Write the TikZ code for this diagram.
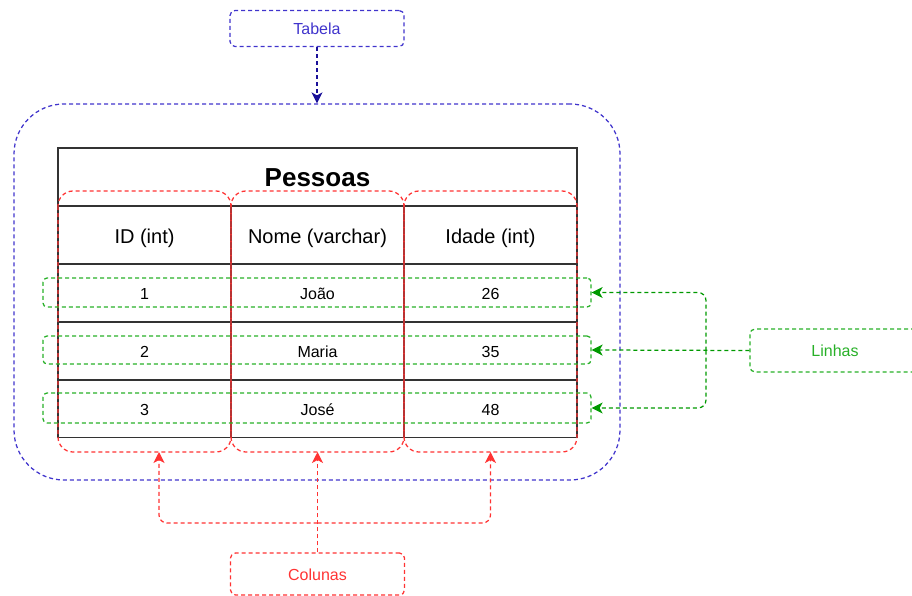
\documentclass[tikz,border=0pt]{standalone}
\usepackage{fontspec}
\setmainfont{Liberation Sans}
\usetikzlibrary{arrows.meta}
\definecolor{tblue}{RGB}{64,52,204}
\definecolor{tnavy}{RGB}{26,16,153}
\definecolor{tgreen}{RGB}{40,176,40}
\definecolor{tgreendark}{RGB}{0,153,0}
\definecolor{tred}{RGB}{255,51,51}
\definecolor{tgrid}{RGB}{51,51,51}
\tikzset{
  x=1pt, y=-1pt,
  dsh/.style={dash pattern=on 4pt off 3pt, line width=1.25pt},
  cell/.style={draw=tgrid, line width=1.4pt, minimum width=173pt, minimum height=58pt, inner sep=0pt, anchor=center},
  datatxt/.style={font=\fontsize{16}{18}\selectfont},
  headtxt/.style={font=\fontsize{20}{22}\selectfont},
  label/.style={dsh, rounded corners=5pt, minimum width=174pt, inner sep=0pt, font=\fontsize{16}{18}\selectfont},
  colbox/.style={dsh, draw=tred, rounded corners=15pt},
  rowbox/.style={dsh, draw=tgreen, rounded corners=4pt},
  tip/.style={-{Stealth[length=11pt,width=11pt,inset=3pt]}},
  garrow/.style={dsh, draw=tgreen, tip, tgreendark},
  rarrow/.style={dsh, draw=tred, tip},
}
% move text down inside a cell while keeping the cell's own box size
\newcommand{\lowered}[2]{\raisebox{-#1}[\height][\depth]{#2}}
\begin{document}
\begin{tikzpicture}
\useasboundingbox (0,0) rectangle (912,596);

% outer table frame
\node[dsh, draw=tblue, rounded corners=50pt, minimum width=606pt, minimum height=376pt, inner sep=0pt]
  (frame) at (317,292) {};

% Tabela label
\node[label, draw=tblue, text=tblue, minimum height=36pt] (tabela) at (317,28.5) {Tabela};
\draw[dsh, draw=tnavy, tip, tnavy] (tabela.south) -- (frame.north);

% table body
\node[cell, minimum width=519pt] (title) at (317.5,177) {\fontsize{26}{28}\selectfont\bfseries\lowered{1pt}{Pessoas}};
\node[cell, headtxt] (h1) at (144.5,235) {\lowered{3pt}{ID (int)}};
\node[cell, headtxt] (h2) at (317.5,235) {\lowered{3pt}{Nome (varchar)}};
\node[cell, headtxt] (h3) at (490.5,235) {\lowered{3pt}{Idade (int)}};
\node[cell, datatxt] (a1) at (144.5,293) {\lowered{1pt}{1}};
\node[cell, datatxt] (a2) at (317.5,293) {\lowered{1pt}{João}};
\node[cell, datatxt] (a3) at (490.5,293) {\lowered{1pt}{26}};
\node[cell, datatxt] (b1) at (144.5,351) {\lowered{1pt}{2}};
\node[cell, datatxt] (b2) at (317.5,351) {\lowered{1pt}{Maria}};
\node[cell, datatxt] (b3) at (490.5,351) {\lowered{1pt}{35}};
\node[cell, datatxt] (c1) at (144.5,408.5) {\lowered{1pt}{3}};
\node[cell, datatxt] (c2) at (317.5,408.5) {\lowered{1pt}{José}};
\node[cell, datatxt] (c3) at (490.5,408.5) {\lowered{1pt}{48}};

% column outlines
\draw[colbox] (58,191) rectangle (231,452);
\draw[colbox] (231,191) rectangle (404,452);
\draw[colbox] (404,191) rectangle (577,452);
\coordinate (col1) at (159,452);
\coordinate (col2) at (317.5,452);
\coordinate (col3) at (490.5,452);

% row outlines
\node[rowbox, minimum width=548pt, minimum height=29pt, inner sep=0pt] (row1) at (317,292.5) {};
\node[rowbox, minimum width=548pt, minimum height=28pt, inner sep=0pt] (row2) at (317,350) {};
\node[rowbox, minimum width=548pt, minimum height=30pt, inner sep=0pt] (row3) at (317,408) {};

% Linhas label and connectors
\node[label, draw=tgreen, text=tgreen, minimum height=43pt, minimum width=170pt] (linhas) at (835,350.5) {Linhas};
\coordinate (lj) at (706,350.5);
\draw[garrow] (linhas.west) -- (row2.east);
\draw[garrow, rounded corners=8pt] (lj) |- (row1.east);
\draw[garrow, rounded corners=8pt] (lj) |- (row3.east);

% Colunas label and connectors
\node[label, draw=tred, text=tred, minimum height=42pt] (colunas) at (317.5,574) {\lowered{1pt}{Colunas}};
\coordinate (cj) at (317.5,523);
\draw[rarrow] (colunas.north) -- (col2);
\draw[rarrow, rounded corners=8pt] (cj) -| (col1);
\draw[rarrow, rounded corners=8pt] (cj) -| (col3);
\end{tikzpicture}
\end{document}
